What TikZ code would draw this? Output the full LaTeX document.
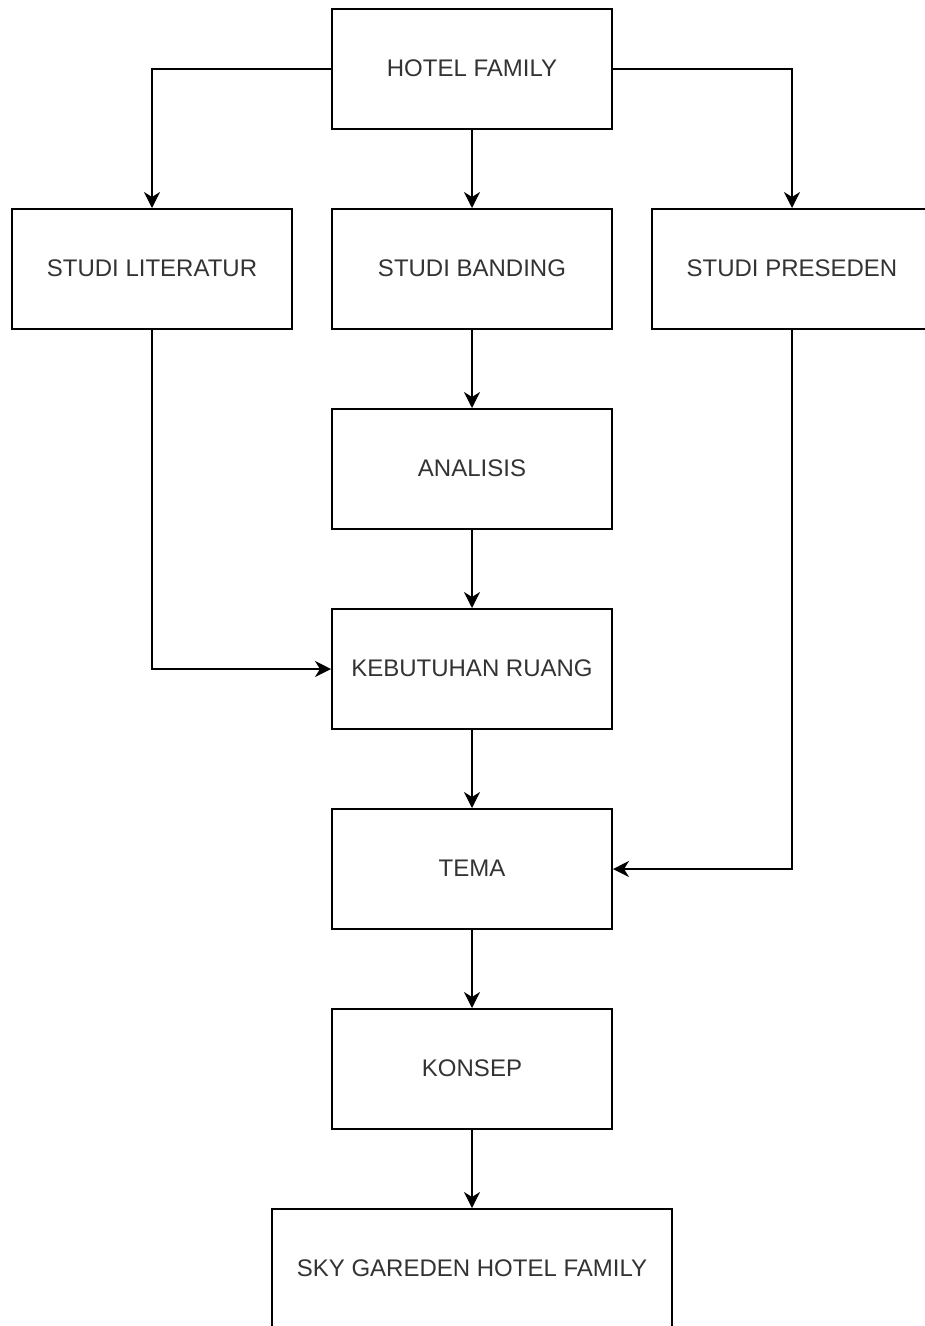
\documentclass[tikz,border=0pt]{standalone}
\usepackage{fontspec}
\setmainfont{Liberation Sans}
\usetikzlibrary{arrows.meta}
\definecolor{txt}{HTML}{333333}
\tikzset{
  box/.style={draw=black, line width=2pt, fill=white, minimum width=280pt, minimum height=120pt, inner sep=0pt, text=txt, font=\fontsize{24}{28}\selectfont},
  wide/.style={box, minimum width=400pt},
  conn/.style={draw=black, line width=2pt, -{Stealth[length=16pt,width=16pt,inset=5pt]}}
}
\begin{document}
\begin{tikzpicture}[x=1pt,y=-1pt]
\clip (0,0) rectangle (925,1326);
\fill[white] (0,0) rectangle (925,1326);
\node[box] (hotel) at (472,69) {\raisebox{2pt}{HOTEL FAMILY}};
\node[box] (lit) at (152,269) {\raisebox{2pt}{STUDI LITERATUR}};
\node[box] (band) at (472,269) {\raisebox{2pt}{STUDI BANDING}};
\node[box] (pres) at (792,269) {\raisebox{2pt}{STUDI PRESEDEN}};
\node[box] (anal) at (472,469) {\raisebox{2pt}{ANALISIS}};
\node[box] (keb) at (472,669) {\raisebox{2pt}{KEBUTUHAN RUANG}};
\node[box] (tema) at (472,869) {\raisebox{2pt}{TEMA}};
\node[box] (kons) at (472,1069) {\raisebox{2pt}{KONSEP}};
\node[wide] (sky) at (472,1269) {\raisebox{2pt}{SKY GAREDEN HOTEL FAMILY}};
\draw[conn] (hotel.south) -- (band.north);
\draw[conn] (hotel.west) -| (lit.north);
\draw[conn] (hotel.east) -| (pres.north);
\draw[conn] (band.south) -- (anal.north);
\draw[conn] (anal.south) -- (keb.north);
\draw[conn] (lit.south) |- (keb.west);
\draw[conn] (keb.south) -- (tema.north);
\draw[conn] (pres.south) |- (tema.east);
\draw[conn] (tema.south) -- (kons.north);
\draw[conn] (kons.south) -- (sky.north);
\end{tikzpicture}
\end{document}
